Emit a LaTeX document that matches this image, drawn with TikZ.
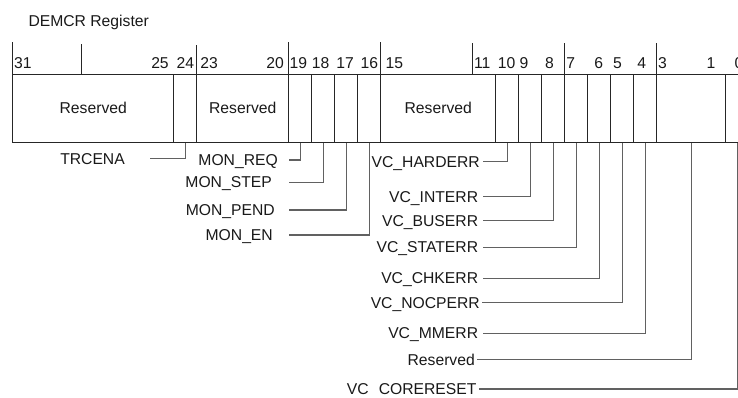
\documentclass[tikz,border=0pt]{standalone}
\usepackage{fontspec}
\setmainfont{Liberation Sans}
\begin{document}
\begin{tikzpicture}[x=1pt,y=-1pt,
  txt/.style={font=\fontsize{15.7}{18}\selectfont, inner sep=0pt, text height=11.24pt, text depth=0pt, text=black!90},
  field/.style={txt, draw=black!85, line width=0.9pt, minimum height=68.5pt, anchor=north west},
  tick/.style={draw=black!85, line width=0.9pt},
  conn/.style={draw=black!62, line width=1.1pt},
  num/.style={txt},
  lbl/.style={txt, anchor=east, inner ysep=0pt}
]
\useasboundingbox (0,0) rectangle (738,397);
\clip (0,0) rectangle (738,397);

% title
\node[txt, anchor=west] (title) at (28.3,21) {DEMCR Register};

% top ticks
\foreach \x/\t in {12.3/42, 81/44, 196.3/45, 288.3/42, 380.3/42, 472.3/43, 564.3/43, 656.3/43}
  \draw[tick] (\x,\t) -- (\x,73.5);

% bit numbers
\foreach \x/\n in {22.8/31, 160/25, 185.3/24, 209/23, 275/20, 298.3/19, 320.5/18, 345.2/17, 369.3/16, 394.3/15, 482.2/11, 506.7/10, 524/9, 549.5/8, 570.8/7, 598.8/6, 617.5/5, 641.7/4, 662.6/3, 711/1, 739/0}
  \node[num] at (\x,62.5) {\n};

% register fields
\node[field, minimum width=161pt] (f3125) at (12.3,73.5) {Reserved};
\node[field, minimum width=23pt]  (f24)   at (173.3,73.5) {};
\node[field, minimum width=92pt]  (f2320) at (196.3,73.5) {Reserved};
\node[field, minimum width=23pt]  (f19)   at (288.3,73.5) {};
\node[field, minimum width=23pt]  (f18)   at (311.3,73.5) {};
\node[field, minimum width=23pt]  (f17)   at (334.3,73.5) {};
\node[field, minimum width=23pt]  (f16)   at (357.3,73.5) {};
\node[field, minimum width=115pt] (f1511) at (380.3,73.5) {Reserved};
\node[field, minimum width=23pt]  (f10)   at (495.3,73.5) {};
\node[field, minimum width=23pt]  (f9)    at (518.3,73.5) {};
\node[field, minimum width=23pt]  (f8)    at (541.3,73.5) {};
\node[field, minimum width=23pt]  (f7)    at (564.3,73.5) {};
\node[field, minimum width=23pt]  (f6)    at (587.3,73.5) {};
\node[field, minimum width=23pt]  (f5)    at (610.3,73.5) {};
\node[field, minimum width=23pt]  (f4)    at (633.3,73.5) {};
\node[field, minimum width=69pt]  (f31)   at (656.3,73.5) {};
\node[field, minimum width=23pt]  (f0)    at (725.3,73.5) {};

% labels
\node[lbl, inner xsep=25pt]  (trcena)  at (150,158.5) {TRCENA};
\node[lbl, inner xsep=11pt]  (monreq)  at (289,160)   {MON\_REQ};
\node[lbl, inner xsep=17pt]  (monstep) at (289,182.3) {MON\_STEP};
\node[lbl, inner xsep=14pt]  (monpend) at (289,210)   {MON\_PEND};
\node[lbl, inner xsep=16pt]  (monen)   at (289,235)   {MON\_EN};
\node[lbl, inner xsep=3pt]   (hard)    at (483,161.7) {VC\_HARDERR};
\node[lbl, inner xsep=4.4pt] (int)     at (482.7,196.7) {VC\_INTERR};
\node[lbl, inner xsep=4.4pt] (bus)     at (482.7,220.7) {VC\_BUSERR};
\node[lbl, inner xsep=4.4pt] (stat)    at (482.7,247.3) {VC\_STATERR};
\node[lbl, inner xsep=4.4pt] (chk)     at (482.7,278.3) {VC\_CHKERR};
\node[lbl, inner xsep=2pt]   (nocp)    at (482,302.7)   {VC\_NOCPERR};
\node[lbl, inner xsep=4.4pt] (mm)      at (482.7,333.3) {VC\_MMERR};
\node[lbl, inner xsep=2pt]   (res)     at (477,359.7)   {Reserved};
\node[lbl, inner xsep=2.3pt] (core)    at (479,389)     {VC\hspace{0.65em}CORERESET};

% connectors
\draw[conn] (f24.south) |- (trcena.east);
\draw[conn] (f19.south) |- (monreq.east);
\draw[conn] (f18.south) |- (monstep.east);
\draw[conn] (f17.south) |- (monpend.east);
\draw[conn] (f16.south) |- (monen.east);
\draw[conn] (f10.south) |- (hard.east);
\draw[conn] (f9.south)  |- (int.east);
\draw[conn] (f8.south)  |- (bus.east);
\draw[conn] (f7.south)  |- (stat.east);
\draw[conn] (f6.south)  |- (chk.east);
\draw[conn] (f5.south)  |- (nocp.east);
\draw[conn] (f4.south)  |- (mm.east);
\draw[conn] (f31.south) |- (res.east);
\draw[conn] (f0.south)  |- (core.east);
\end{tikzpicture}
\end{document}
